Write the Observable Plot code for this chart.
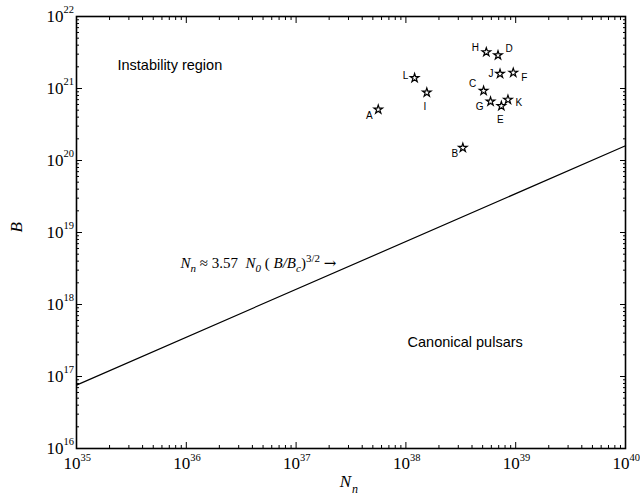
<!DOCTYPE html>
<html><head><meta charset="utf-8">
<script src="https://cdn.jsdelivr.net/npm/d3@7"></script>
<script src="https://cdn.jsdelivr.net/npm/@observablehq/plot@0.6"></script>
<style>body{margin:0;background:#fff} svg{display:block}</style>
</head><body><div id="chart"></div>
<script>
// Pulsars: neutron number N_n vs magnetic field B
const names = ["A","B","C","D","E","F","G","H","I","J","K","L"];
const Nn    = [5.6e37, 3.3e38, 5.1e38, 6.9e38, 7.4e38, 9.5e38, 5.9e38, 5.4e38, 1.55e38, 7.2e38, 8.5e38, 1.2e38];
const Bval  = [5.1e20, 1.5e20, 9.3e20, 2.9e21, 5.7e20, 1.66e21, 6.6e20, 3.2e21, 8.8e20, 1.6e21, 7.0e20, 1.4e21];

// boundary line N_n ≈ 3.57 N0 (B/Bc)^{3/2} (end points)
const lineN = [1e35, 1e40];
const lineB = [7.6e16, 1.6e20];

const xTicks = [1e35, 1e36, 1e37, 1e38, 1e39, 1e40];
const xTickExp = ["35","36","37","38","39","40"];
const yTicks = [1e16, 1e17, 1e18, 1e19, 1e20, 1e21, 1e22];
const yTickExp = ["16","17","18","19","20","21","22"];

const regionLabels = ["Instability region", "Canonical pulsars"];
const regionN = [2.36e35, 1.035e38];
const regionB = [2.09e21, 2.96e17];

const formulaText = ["Nn ≈ 3.57 N0 ( B/Bc)3/2 →"];
const formulaN = [8.85e35];
const formulaB = [3.7e18];

// label placement (pixel offsets, style only)
const labelOffset = {A:[-9,6], B:[-8,6], C:[-11,-7], D:[11,-6], E:[-1,14], F:[11,5],
                     G:[-11,5], H:[-11,-4], I:[-2,14], J:[-9,0], K:[11,3], L:[-9,-2]};

function minorTicks(lo, hi) {
  const out = [];
  for (let e = lo; e < hi; e++) for (let m = 2; m <= 9; m++) out.push(m * Math.pow(10, e));
  return out;
}
const xMinor = minorTicks(35, 40);
const yMinor = minorTicks(16, 22);

const points = names.map((n, i) => ({name: n, N: Nn[i], B: Bval[i]}));
const line = lineN.map((n, i) => ({N: n, B: lineB[i]}));
const regions = regionLabels.map((t, i) => ({t, N: regionN[i], B: regionB[i]}));
const formula = formulaText.map((t, i) => ({t, N: formulaN[i], B: formulaB[i]}));

const serif = "Liberation Serif, Times New Roman, serif";
const sans = "Liberation Sans, Arial, sans-serif";
const tk = {stroke: "black", strokeWidth: 1, fill: "none", label: null};

const labelMarks = names.map(n => Plot.text(points, {
  filter: d => d.name === n, x: "N", y: "B", text: "name",
  dx: labelOffset[n][0], dy: labelOffset[n][1],
  fontFamily: sans, fontSize: 10, fill: "black"
}));

const chart = Plot.plot({
  width: 640, height: 495,
  marginLeft: 76, marginRight: 15, marginTop: 16, marginBottom: 47,
  style: {background: "white", color: "black"},
  x: {type: "log", domain: [1e35, 1e40]},
  y: {type: "log", domain: [1e16, 1e22]},
  marks: [
    Plot.axisX(xTicks, {anchor: "bottom", tickSize: -6, ...tk}),
    Plot.axisX(xTicks, {anchor: "top", tickSize: -6, ...tk}),
    Plot.axisX(xMinor, {anchor: "bottom", tickSize: -3, ...tk}),
    Plot.axisX(xMinor, {anchor: "top", tickSize: -3, ...tk}),
    Plot.axisY(yTicks, {anchor: "left", tickSize: -6, ...tk}),
    Plot.axisY(yTicks, {anchor: "right", tickSize: -6, ...tk}),
    Plot.axisY(yMinor, {anchor: "left", tickSize: -3, ...tk}),
    Plot.axisY(yMinor, {anchor: "right", tickSize: -3, ...tk}),
    Plot.frame({stroke: "black", strokeWidth: 1.6}),
    // tick labels
    Plot.text(xTicks, {x: d => d, frameAnchor: "bottom", text: () => "10", textAnchor: "end",
      dx: 4, dy: 20, fontFamily: serif, fontSize: 17, fill: "black"}),
    Plot.text(xTicks, {x: d => d, frameAnchor: "bottom", text: (d, i) => xTickExp[i], textAnchor: "start",
      dx: 4, dy: 12, fontFamily: serif, fontSize: 10.5, fill: "black"}),
    Plot.text(yTicks, {y: d => d, frameAnchor: "left", text: () => "10", textAnchor: "end",
      dx: -13, dy: 0, fontFamily: serif, fontSize: 17, fill: "black"}),
    Plot.text(yTicks, {y: d => d, frameAnchor: "left", text: (d, i) => yTickExp[i], textAnchor: "start",
      dx: -13, dy: -7, fontFamily: serif, fontSize: 10.5, fill: "black"}),
    // axis titles
    Plot.text(["N"], {frameAnchor: "bottom", text: d => d, textAnchor: "end", dy: 38,
      fontFamily: serif, fontStyle: "italic", fontSize: 17, fill: "black"}),
    Plot.text(["n"], {frameAnchor: "bottom", text: d => d, textAnchor: "start", dx: 1, dy: 44,
      fontFamily: serif, fontStyle: "italic", fontSize: 12, fill: "black"}),
    Plot.text(["B"], {frameAnchor: "left", text: d => d, dx: -60, rotate: -90,
      fontFamily: serif, fontStyle: "italic", fontSize: 17, fill: "black"}),
    // boundary line
    Plot.line(line, {x: "N", y: "B", stroke: "black", strokeWidth: 1.2}),
    // region labels
    Plot.text(regions, {x: "N", y: "B", text: "t", textAnchor: "start",
      fontFamily: sans, fontSize: 14.5, fill: "black"}),
    Plot.text(formula, {x: "N", y: "B", text: "t", textAnchor: "start",
      fontFamily: serif, fontSize: 15, fill: "black"}),
    // stars
    Plot.dot(points, {x: "N", y: "B", symbol: "star", r: 2.7, stroke: "black", fill: "none", strokeWidth: 1.2}),
    ...labelMarks
  ]
});
document.getElementById("chart").appendChild(chart);

// rich formatting (italics, sub/superscripts) for the formula annotation
const f = d3.select(chart).selectAll("text").filter(function() { return this.textContent === formulaText[0]; });
f.text(null).style("white-space", "pre");
const parts = [
  ["N", {it: 1}], ["n", {it: 1, sub: 1}], [" ≈ 3.57  ", {}], ["N", {it: 1}], ["0", {it: 1, sub: 1}],
  [" ( ", {}], ["B/B", {it: 1}], ["c", {it: 1, sub: 1}], [")", {}], ["3/2", {sup: 1}], [" ", {}], ["→", {arrow: 1}]
];
let shift = 0;
for (const [t, o] of parts) {
  const target = o.sub ? 4 : o.sup ? -6 : 0;
  const ts = f.append("tspan").text(t).attr("dy", target - shift);
  shift = target;
  if (o.it) ts.attr("font-style", "italic");
  if (o.sub || o.sup) ts.attr("font-size", 11);
  if (o.arrow) ts.attr("font-family", "DejaVu Serif").attr("font-size", 15);
}
</script>
</body></html>
